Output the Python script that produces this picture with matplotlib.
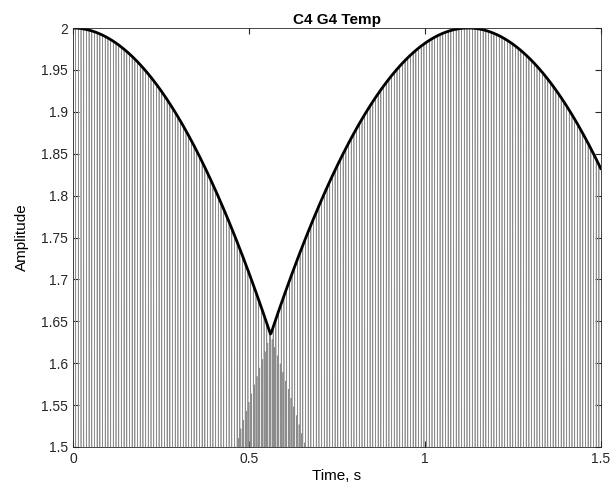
import numpy as np
import matplotlib
matplotlib.use("Agg")
import matplotlib.pyplot as plt

plt.rcParams['font.family'] = ['Liberation Sans', 'DejaVu Sans']

# two equal-tempered notes (table values)
notes = ["C4", "G4"]
freqs = [261.63, 392.00]   # Hz
fs = 44100                 # sample rate
t_end = 1.5
y_ticks = [1.5, 1.55, 1.6, 1.65, 1.7, 1.75, 1.8, 1.85, 1.9, 1.95, 2.0]
y_labels = ["1.5", "1.55", "1.6", "1.65", "1.7", "1.75", "1.8", "1.85", "1.9", "1.95", "2"]
x_ticks = [0, 0.5, 1, 1.5]
x_labels = ["0", "0.5", "1", "1.5"]

t = np.arange(0, t_end, 1.0 / fs)
sig = np.cos(2 * np.pi * freqs[0] * t) + np.cos(2 * np.pi * freqs[1] * t)

# envelope: peak of the sum as the 3:2 relation drifts
f_beat = 3 * freqs[0] - 2 * freqs[1]
te = np.linspace(0, t_end, 800)
th = np.linspace(0, 2 * np.pi, 4000)
env = np.max(np.cos(2 * th[None, :]) + np.cos(3 * th[None, :] - np.pi * f_beat * te[:, None]), axis=1)

fig = plt.figure(figsize=(6.13, 5.0), dpi=100)
ax = fig.add_axes([0.119, 0.106, 0.861, 0.838])
ax.plot(t, sig, color=(0.55, 0.55, 0.55), lw=0.5)
ax.plot(te, env, color='k', lw=2)

ax.set_xlim(0, 1.5)
ax.set_ylim(1.5, 2)
ax.set_xticks(x_ticks)
ax.set_xticklabels(x_labels)
ax.set_yticks(y_ticks)
ax.set_yticklabels(y_labels)
ax.tick_params(direction='in', top=True, right=True, labelsize=10, colors=(0.15, 0.15, 0.15), length=4)
for s in ax.spines.values():
    s.set_color((0.15, 0.15, 0.15))
    s.set_linewidth(0.6)
ax.set_xlabel("Time, s", fontsize=11, labelpad=2)
ax.set_ylabel("Amplitude", fontsize=11, labelpad=9)
ax.set_title(" ".join(notes) + " Temp", fontsize=11, fontweight='bold', pad=3)

fig.savefig("out.png", dpi=100)
